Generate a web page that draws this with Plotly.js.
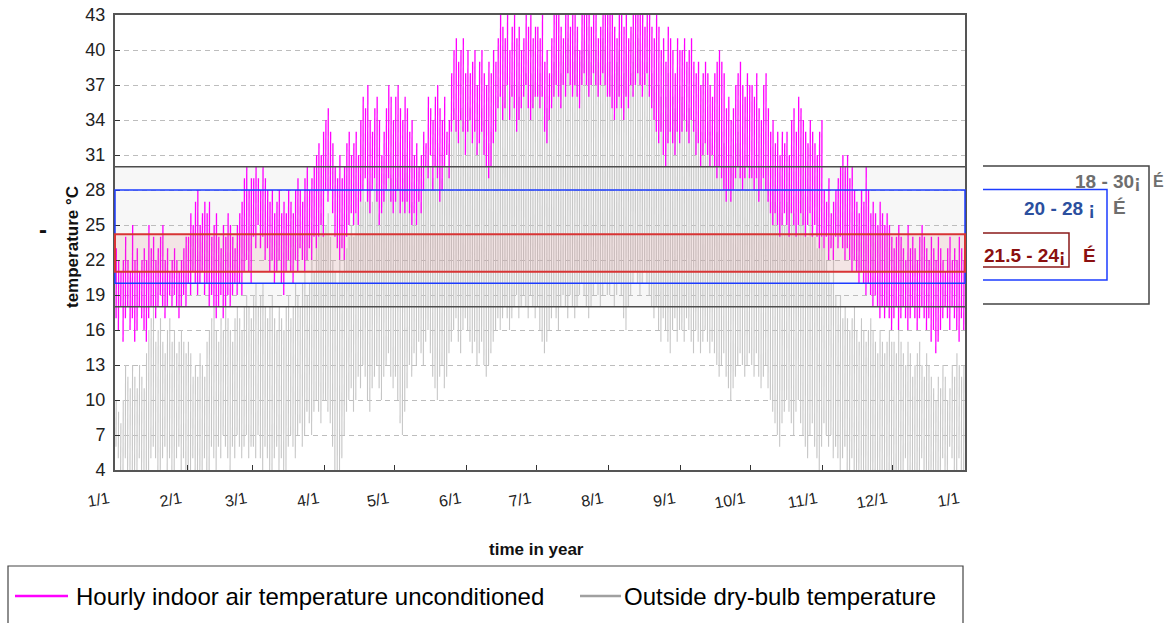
<!DOCTYPE html>
<html>
<head>
<meta charset="utf-8">
<script src="https://cdn.plot.ly/plotly-3.0.1.min.js"></script>
<style>
html,body{margin:0;padding:0;background:#fff;}
#chart{width:1165px;height:623px;}
</style>
</head>
<body>
<div id="chart"></div>
<script>
// ---------- DATA (daily extremes by month) ----------
const year = 2023;
const tickLabels = ['1/1','2/1','3/1','4/1','5/1','6/1','7/1','8/1','9/1','10/1','11/1','12/1','1/1'];
const yTicks = [4,7,10,13,16,19,22,25,28,31,34,37,40,43];

// Hourly indoor air temperature unconditioned: daily max / min (°C)
const indoorMax = [
 [23,22,21,22,24,22,21,25,22,23,21,22,23,22,25,23,24,22,23,24,25,22,23,21,22,23,22,21,22,23,24],
 [24,26,25,27,28,25,26,27,26,27,24,25,26,24,23,25,24,26,25,24,23,25,26,27,29,30,28,29],
 [29,30,29,28,30,29,28,27,28,26,27,28,26,27,26,28,27,26,28,29,28,27,29,30,28,29,30,31,32,31,33],
 [34,35,33,32,30,29,31,29,30,32,33,31,32,33,31,34,36,35,37,34,33,35,36,34,31,33,35,37,36,34],
 [36,37,35,34,36,35,33,34,31,32,30,31,33,32,36,35,34,36,37,35,34,36,33,34,38,40,41,39,40,41,38],
 [40,38,39,40,37,39,40,38,37,39,38,40,39,41,43,42,41,43,40,42,43,41,42,40,41,43,42,43,41,42],
 [42,41,43,39,40,38,41,43,44,43,42,41,44,43,42,44,43,42,40,43,44,45,43,42,44,43,41,42,43,44,43],
 [43,44,42,41,43,44,42,43,41,42,44,43,44,45,43,42,44,43,42,41,43,42,40,41,39,42,41,40,38,41,40],
 [40,41,39,40,41,39,38,39,37,38,39,38,37,36,38,39,40,39,38,35,36,34,35,37,38,39,37,36,38,37],
 [37,36,38,35,34,37,38,35,33,34,32,33,31,33,32,33,31,34,35,33,36,35,34,33,32,34,33,32,31,33,34],
 [28,27,29,26,27,28,29,30,31,30,31,29,30,28,27,26,28,27,30,28,26,27,26,25,27,26,25,26,25,24],
 [23,24,25,24,23,22,25,23,24,23,22,24,25,24,23,22,24,23,22,24,23,22,21,23,24,22,23,22,24,23,22]
];
const indoorMin = [
 [17,16,18,15,17,18,16,17,15,16,18,17,16,15,17,18,18,17,18,19,18,17,18,19,18,19,18,17,18,19,18],
 [20,19,21,20,19,20,21,19,20,18,19,18,17,18,19,17,18,19,18,19,20,19,20,19,21,22,21,20],
 [24,23,25,23,24,22,23,21,22,20,21,22,20,19,21,22,21,20,22,21,23,22,21,22,23,22,24,23,24,25,24],
 [28,27,28,26,24,23,22,23,22,24,25,26,25,26,25,27,28,29,27,26,28,29,27,25,26,27,28,29,27,26],
 [27,28,26,27,26,27,26,25,26,25,27,26,28,30,29,31,28,30,29,27,28,30,31,29,33,34,33,32,34,33,31],
 [33,34,32,33,31,32,33,31,30,29,30,32,33,35,36,34,35,37,34,36,35,33,34,35,36,37,35,34,35,36],
 [36,35,36,33,32,34,35,36,37,36,35,37,36,38,37,36,37,36,35,37,38,37,36,37,38,37,36,37,38,37,36],
 [36,35,34,35,36,35,34,36,35,37,36,37,38,37,36,37,38,36,35,34,33,32,33,31,30,32,33,32,31,33,32],
 [33,34,33,32,34,33,31,32,30,31,32,31,30,31,30,29,30,29,28,27,28,27,28,29,30,29,28,29,30,29],
 [29,28,29,27,28,29,28,27,26,25,26,25,24,25,26,25,24,26,25,24,25,26,25,24,25,26,24,25,24,23,24],
 [23,24,22,23,22,24,23,24,23,22,23,22,21,22,21,20,21,20,19,20,19,18,19,18,17,18,17,18,17,16],
 [17,18,16,17,18,17,16,17,18,17,16,17,18,17,16,17,15,16,14,15,16,17,18,17,16,18,17,16,15,17,16]
];

// Outside dry-bulb temperature: daily max / min (°C)
const outsideMax = [
 [10,9,8,10,13,12,11,13,12,11,13,12,11,14,16,17,18,15,16,17,15,14,16,17,15,16,14,15,16,15,14],
 [15,14,12,13,12,14,13,12,15,16,17,18,16,15,17,16,18,17,16,15,17,18,17,16,18,19,18,17],
 [19,20,18,19,20,18,17,18,19,17,16,18,17,16,18,19,17,18,20,19,18,20,21,19,20,22,21,23,24,26,25],
 [25,26,24,22,21,20,22,21,22,23,24,25,24,26,25,27,28,27,29,28,27,29,28,26,27,28,30,31,29,28],
 [29,30,28,29,31,30,28,27,26,27,28,27,29,30,31,30,29,31,32,30,29,31,30,32,33,35,34,33,35,34,33],
 [34,35,33,34,32,33,35,34,33,32,33,34,35,36,37,36,37,38,36,37,38,37,36,38,37,38,39,38,37,38],
 [37,38,39,36,35,36,38,39,40,39,38,39,40,41,40,39,40,41,39,40,41,42,40,39,41,40,39,40,41,40,39],
 [39,40,38,39,40,39,38,40,39,38,39,40,41,40,39,38,39,40,38,37,38,37,36,37,36,38,37,36,35,36,37],
 [36,35,34,35,36,34,33,34,33,32,33,34,33,32,31,33,34,33,32,30,31,30,31,32,33,32,31,30,31,30],
 [30,29,31,30,28,29,30,28,27,28,27,26,27,26,25,27,28,27,26,25,27,28,26,25,24,26,25,24,23,25,24],
 [23,22,21,20,22,19,18,19,17,18,17,16,17,18,16,15,17,16,15,16,17,16,15,14,16,15,14,15,16,15],
 [15,14,16,15,14,13,15,14,12,13,14,15,13,12,14,13,12,11,10,12,11,13,12,10,11,13,12,14,13,12,13]
];
const outsideMin = [
 [6,5,4,3,5,4,3,2,4,3,5,4,3,2,4,5,6,5,4,3,5,6,4,5,3,4,5,6,4,5,3],
 [4,3,5,4,3,2,4,5,3,4,6,5,4,6,5,7,6,5,4,6,5,7,6,5,6,7,5,6],
 [6,5,7,5,4,6,5,4,3,5,6,4,5,3,4,6,7,6,5,7,8,6,7,9,8,7,9,10,9,8,10],
 [10,9,8,6,4,3,4,5,7,9,10,11,9,10,12,11,13,12,10,9,11,12,13,11,10,12,13,14,12,11],
 [12,10,8,7,9,11,13,12,14,13,15,14,13,15,16,14,12,11,10,12,13,11,12,14,15,16,17,15,14,16,17],
 [16,15,14,15,13,14,15,13,12,13,14,15,16,17,16,17,18,17,16,17,18,19,17,18,19,18,17,19,18,17],
 [18,16,15,14,15,16,17,18,17,16,18,19,18,17,19,18,17,18,19,20,19,18,17,18,19,20,19,18,19,20,19],
 [19,20,18,19,20,19,17,16,18,19,20,21,20,19,20,21,20,19,18,17,18,16,15,17,16,15,14,16,17,15,16],
 [16,15,17,16,15,14,16,15,14,15,16,15,14,15,14,13,12,13,14,12,11,10,11,12,13,14,13,12,13,14],
 [13,12,14,12,11,12,13,11,10,9,8,7,6,8,9,10,9,8,7,9,10,8,7,6,5,7,8,6,5,4,6],
 [8,7,6,7,5,6,5,4,5,6,4,3,5,4,3,4,2,3,4,3,2,3,4,2,3,4,3,2,3,4],
 [3,4,3,2,4,5,3,4,3,2,4,3,5,4,3,2,4,3,2,3,4,5,3,4,6,5,4,3,5,4,3]
];

// comfort ranges
const bandOuter = [18, 30];
const bandBlue = [20, 28];
const bandRed = [21, 24.2];

// ---------- BUILD ----------
const pad = n => String(n).padStart(2, '0');
// one vertical stroke per day (min -> max), strokes separated by gaps
function series(maxArr, minArr, hMin, hMax) {
  const x = [], y = [];
  for (let m = 0; m < 12; m++) {
    for (let d = 0; d < minArr[m].length; d++) {
      const day = `${year}-${pad(m + 1)}-${pad(d + 1)}`;
      x.push(`${day} ${pad(hMin)}:00`); y.push(minArr[m][d]);
      x.push(`${day} ${pad(hMax)}:00`); y.push(maxArr[m][d]);
      x.push(`${day} ${pad(hMax)}:30`); y.push(null);
    }
  }
  return {x, y};
}
const outS = series(outsideMax, outsideMin, 10, 13);
const inS = series(indoorMax, indoorMin, 11, 14);

const tickVals = tickLabels.map((t, i) => i < 12 ? `${year}-${pad(i + 1)}-01` : `${year + 1}-01-01`);

const traces = [
  {type: 'scatter', mode: 'lines', x: outS.x, y: outS.y, name: 'Outside dry-bulb temperature',
   connectgaps: false, line: {color: '#c6c6c6', width: 1.1}, hoverinfo: 'skip', showlegend: false},
  {type: 'scatter', mode: 'lines', x: inS.x, y: inS.y, name: 'Hourly indoor air temperature unconditioned',
   connectgaps: false, line: {color: '#ff00ff', width: 1.3}, hoverinfo: 'skip', showlegend: false}
];

// pixel -> paper helpers (plot area: x 115..965, y 15..470)
const L = 115, R = 965, T = 15, B = 470;
const px = v => (v - L) / (R - L);
const py = v => (B - v) / (B - T);

const narrow = "'Liberation Sans Narrow', 'Arial Narrow', 'Liberation Sans', Arial, sans-serif";
const sans = "'Liberation Sans', Arial, Helvetica, sans-serif";

const shapes = [
  {type: 'rect', xref: 'paper', yref: 'y', x0: 0, x1: 1, y0: bandOuter[0], y1: bandOuter[1],
   fillcolor: '#f7f7f7', line: {width: 0}, layer: 'between'},
  {type: 'line', xref: 'paper', yref: 'y', x0: 0, x1: 1, y0: bandOuter[0], y1: bandOuter[0], line: {color: '#4d4d4d', width: 1.5}},
  {type: 'line', xref: 'paper', yref: 'y', x0: 0, x1: 1, y0: bandOuter[1], y1: bandOuter[1], line: {color: '#4d4d4d', width: 1.5}},
  {type: 'rect', xref: 'paper', yref: 'y', x0: 0, x1: 1, y0: bandBlue[0], y1: bandBlue[1],
   line: {color: '#1c3cff', width: 1.5}},
  {type: 'rect', xref: 'paper', yref: 'y', x0: 0, x1: 1, y0: bandRed[0], y1: bandRed[1],
   fillcolor: 'rgba(215,110,110,0.13)', line: {color: '#d83434', width: 2}},
  // side boxes
  {type: 'path', xref: 'paper', yref: 'paper',
   path: `M${px(983)},${py(166)} H${px(1149)} V${py(304)} H${px(983)}`, line: {color: '#444', width: 1.5}},
  {type: 'path', xref: 'paper', yref: 'paper',
   path: `M${px(983)},${py(189.5)} H${px(1107)} V${py(280)} H${px(983)}`, line: {color: '#1c3cff', width: 1.5}},
  {type: 'path', xref: 'paper', yref: 'paper',
   path: `M${px(983)},${py(233)} H${px(1069)} V${py(267)} H${px(983)}`, line: {color: '#8b1a1a', width: 1.5}},
  // legend box
  {type: 'path', xref: 'paper', yref: 'paper',
   path: `M${px(8)},${py(630)} V${py(566)} H${px(963)} V${py(630)}`, line: {color: '#444', width: 1.2}},
  {type: 'line', xref: 'paper', yref: 'paper', x0: px(15), x1: px(68), y0: py(596), y1: py(596),
   line: {color: '#ff00ff', width: 2.5}},
  {type: 'line', xref: 'paper', yref: 'paper', x0: px(580), x1: px(621), y0: py(596), y1: py(596),
   line: {color: '#a0a0a0', width: 2.5}}
];

const ann = (text, x, y, opts) => Object.assign({text, x: px(x), y: py(y), xref: 'paper', yref: 'paper',
  showarrow: false, xanchor: 'center', yanchor: 'middle'}, opts || {});

const annotations = [
  ann('<b>time in year</b>', 536, 549, {font: {family: sans, size: 17, color: '#111'}}),
  ann('<b>temperature °C</b>', 73, 247, {textangle: -90, font: {family: sans, size: 17, color: '#111'}}),
  ann('<b>-</b>', 43, 229, {font: {family: sans, size: 24, color: '#111'}}),
  ann('Hourly indoor air temperature unconditioned', 74, 596, {xanchor: 'left', font: {family: sans, size: 24, color: '#000'}}),
  ann('Outside dry-bulb temperature', 622, 596, {xanchor: 'left', font: {family: sans, size: 24, color: '#000'}}),
  ann('<b>18 - 30¡</b>', 1142, 181, {xanchor: 'right', font: {family: sans, size: 19, color: '#6e6e6e'}}),
  ann('<b>É</b>', 1151, 181, {xanchor: 'left', font: {family: sans, size: 16, color: '#6e6e6e'}}),
  ann('<b>É</b>', 1111, 207, {xanchor: 'left', font: {family: sans, size: 19, color: '#6e6e6e'}}),
  ann('<b>20 - 28 ¡</b>', 1097, 208, {xanchor: 'right', font: {family: sans, size: 19, color: '#2b4f9e'}}),
  ann('<b>21.5 - 24¡</b>', 982, 255, {xanchor: 'left', font: {family: sans, size: 19, color: '#8b1010'}}),
  ann('<b>É</b>', 1081, 255, {xanchor: 'left', font: {family: sans, size: 19, color: '#8b1010'}})
];

const layout = {
  width: 1165, height: 623,
  margin: {l: L, r: 1165 - R, t: T, b: 623 - B, pad: 0},
  paper_bgcolor: '#ffffff', plot_bgcolor: '#ffffff',
  showlegend: false,
  xaxis: {
    type: 'date', range: [`${year}-01-01`, `${year + 1}-01-01`],
    tickmode: 'array', tickvals: tickVals, ticktext: tickLabels,
    ticks: 'inside', ticklen: 5, tickwidth: 1, tickcolor: '#333',
    showline: true, mirror: true, linecolor: '#555', linewidth: 2,
    showgrid: false, zeroline: false,
    tickangle: -10, ticklabelshift: -6, ticklabelstandoff: 12,
    tickfont: {family: narrow, size: 16, color: '#222'}
  },
  yaxis: {
    range: [4, 43], tickmode: 'array', tickvals: yTicks, ticktext: yTicks.map(String),
    ticks: 'inside', ticklen: 5, tickwidth: 1, tickcolor: '#333',
    showline: true, mirror: true, linecolor: '#555', linewidth: 2,
    showgrid: true, gridcolor: '#bdbdbd', gridwidth: 1, griddash: '5px,4px', zeroline: false,
    ticklabelstandoff: 4,
    tickfont: {family: narrow, size: 18, color: '#222'}
  },
  shapes, annotations
};

Plotly.newPlot('chart', traces, layout, {staticPlot: true, displayModeBar: false});
</script>
</body>
</html>
